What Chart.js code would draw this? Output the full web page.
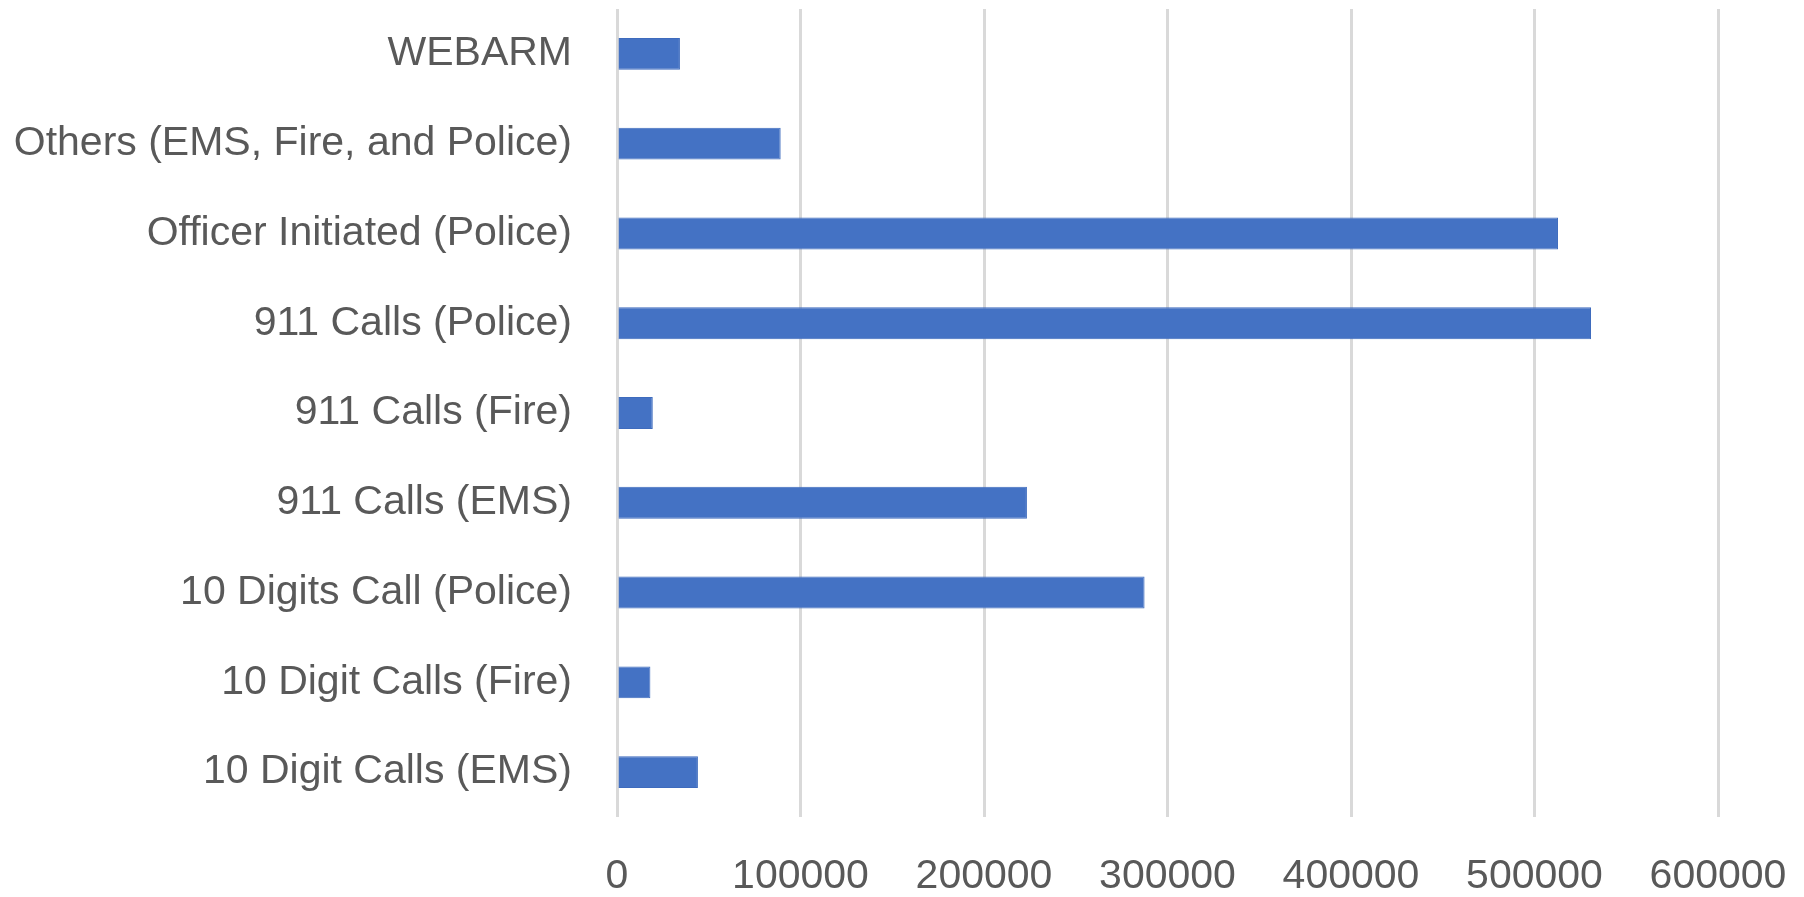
<!DOCTYPE html>
<html>
<head>
<meta charset="utf-8">
<script src="https://cdn.jsdelivr.net/npm/chart.js@4/dist/chart.umd.min.js"></script>
<style>
html,body{margin:0;padding:0;background:#fff;}
#wrap{width:1804px;height:897px;position:relative;}
</style>
</head>
<body>
<div id="wrap"><canvas id="c"></canvas></div>
<script>
const categories = [
  "WEBARM",
  "Others (EMS, Fire, and Police)",
  "Officer Initiated (Police)",
  "911 Calls (Police)",
  "911 Calls (Fire)",
  "911 Calls (EMS)",
  "10 Digits Call (Police)",
  "10 Digit Calls (Fire)",
  "10 Digit Calls (EMS)"
];
const callCounts = [34300, 89200, 512800, 530800, 19500, 223400, 287500, 18200, 44100];
const xTickValues = [0, 100000, 200000, 300000, 400000, 500000, 600000];

const textColor = "#595959";
const font = { family: "'Liberation Sans', Arial, sans-serif", size: 41 };

new Chart(document.getElementById("c"), {
  type: "bar",
  data: {
    labels: categories,
    datasets: [{
      data: callCounts,
      backgroundColor: "#4472C4",
      borderColor: "#3e6bbd",
      borderWidth: { top: 1, bottom: 1, right: 1, left: 0 },
      borderSkipped: "start",
      barPercentage: 1,
      categoryPercentage: 0.355
    }]
  },
  options: {
    indexAxis: "y",
    responsive: true,
    maintainAspectRatio: false,
    animation: false,
    layout: { padding: { top: 9, right: 86, left: 0, bottom: 0 } },
    plugins: { legend: { display: false }, tooltip: { enabled: false } },
    scales: {
      x: {
        min: xTickValues[0],
        max: xTickValues[xTickValues.length - 1],
        afterBuildTicks: (scale) => { scale.ticks = xTickValues.map(v => ({ value: v })); },
        afterFit: (scale) => { scale.height = 80; scale.paddingLeft = 0; scale.paddingRight = 0; },
        grid: { color: "#d9d9d9", lineWidth: 3, drawTicks: false },
        border: { display: false },
        ticks: { color: textColor, font: font, padding: 35, maxRotation: 0, callback: (v) => String(v) }
      },
      y: {
        afterFit: (scale) => { scale.width = 617; scale.paddingTop = 0; scale.paddingBottom = 0; },
        grid: { display: false, drawTicks: false },
        border: { display: false },
        ticks: { color: textColor, font: font, padding: 45 }
      }
    }
  }
});
</script>
</body>
</html>
